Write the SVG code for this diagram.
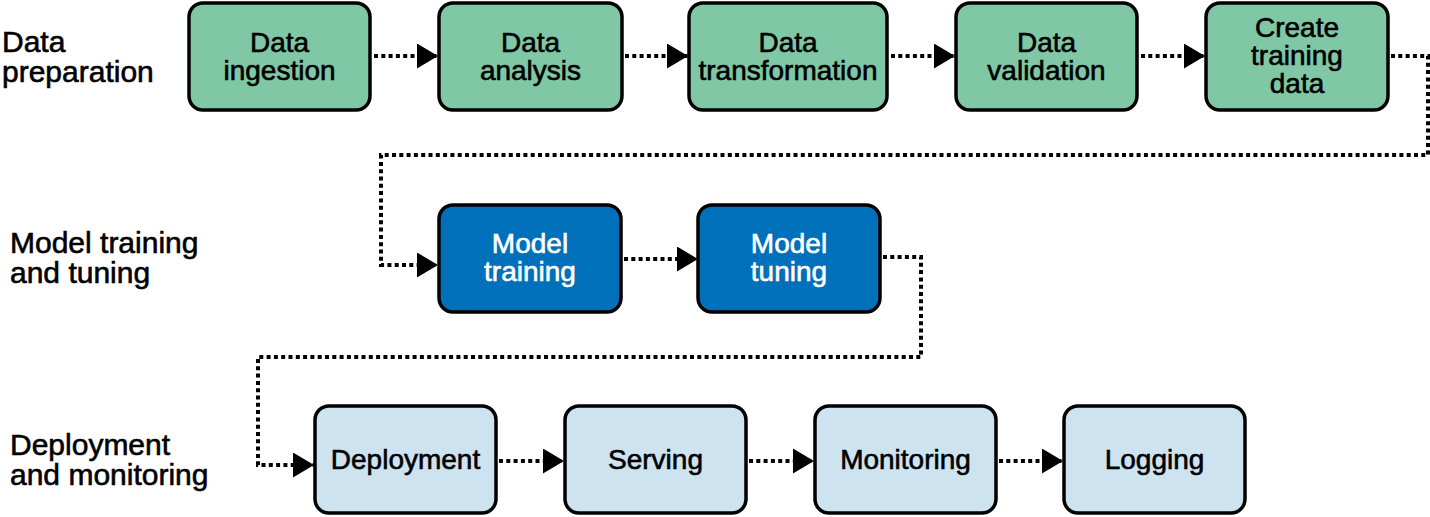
<svg xmlns="http://www.w3.org/2000/svg" width="1430" height="517" viewBox="0 0 1430 517">
<defs>
<style>
.box{stroke:#000;stroke-width:3.5}
.g{fill:#80c8a5}
.b{fill:#0070bb}
.l{fill:#cde3f0}
.t{font-family:"Liberation Sans",Arial,sans-serif;font-size:28px;text-anchor:middle;fill:#000;stroke:#000;stroke-width:0.6}
.w{fill:#fff;stroke:#fff}
.lab{font-family:"Liberation Sans",Arial,sans-serif;font-size:30px;fill:#000;stroke:#000;stroke-width:0.6}
.c{fill:none;stroke:#000;stroke-width:4;stroke-dasharray:4 3.3}
</style>
<marker id="ah" markerUnits="userSpaceOnUse" markerWidth="23" markerHeight="27" refX="21" refY="12.5" orient="auto">
<path d="M0,0 L21,12.5 L0,25 z" fill="#000"/>
</marker>
</defs>
<rect width="1430" height="517" fill="#fff"/>
<g id="labels">
<text class="lab" x="2" y="52">Data</text>
<text class="lab" x="2" y="82">preparation</text>
<text class="lab" x="10" y="253">Model training</text>
<text class="lab" x="10" y="283">and tuning</text>
<text class="lab" x="10" y="455">Deployment</text>
<text class="lab" x="10" y="485">and monitoring</text>
</g>
<g id="connectors">
<path class="c" d="M374,56 H438" marker-end="url(#ah)"/>
<path class="c" d="M625,56 H688" marker-end="url(#ah)"/>
<path class="c" d="M891,56 H955" marker-end="url(#ah)"/>
<path class="c" d="M1141,56 H1205" marker-end="url(#ah)"/>
<path class="c" d="M1391,56 H1428 V155 H381 V265 H438" marker-end="url(#ah)"/>
<path class="c" d="M624,259 H698" marker-end="url(#ah)"/>
<path class="c" d="M883,257 H921 V357 H258 V465 H314" marker-end="url(#ah)"/>
<path class="c" d="M499,461 H564" marker-end="url(#ah)"/>
<path class="c" d="M749,461 H814" marker-end="url(#ah)"/>
<path class="c" d="M999,461 H1063" marker-end="url(#ah)"/>
</g>
<g id="n1"><rect class="box g" x="189" y="3" width="181" height="107" rx="14"/><text class="t" x="279.5" y="52">Data</text><text class="t" x="279.5" y="80">ingestion</text></g>
<g id="n2"><rect class="box g" x="439" y="3" width="183" height="107" rx="14"/><text class="t" x="530.5" y="52">Data</text><text class="t" x="530.5" y="80">analysis</text></g>
<g id="n3"><rect class="box g" x="689" y="3" width="198" height="107" rx="14"/><text class="t" x="788" y="52">Data</text><text class="t" x="788" y="80">transformation</text></g>
<g id="n4"><rect class="box g" x="956" y="3" width="181" height="107" rx="14"/><text class="t" x="1046.5" y="52">Data</text><text class="t" x="1046.5" y="80">validation</text></g>
<g id="n5"><rect class="box g" x="1206" y="3" width="182" height="107" rx="14"/><text class="t" x="1297" y="37">Create</text><text class="t" x="1297" y="65">training</text><text class="t" x="1297" y="93">data</text></g>
<g id="n6"><rect class="box b" x="439" y="205" width="182" height="107" rx="14"/><text class="t w" x="530" y="253">Model</text><text class="t w" x="530" y="281">training</text></g>
<g id="n7"><rect class="box b" x="698" y="205" width="182" height="107" rx="14"/><text class="t w" x="789" y="253">Model</text><text class="t w" x="789" y="281">tuning</text></g>
<g id="n8"><rect class="box l" x="315" y="406" width="181" height="107" rx="14"/><text class="t" x="405.5" y="469">Deployment</text></g>
<g id="n9"><rect class="box l" x="565" y="406" width="181" height="107" rx="14"/><text class="t" x="655.5" y="469">Serving</text></g>
<g id="n10"><rect class="box l" x="815" y="406" width="181" height="107" rx="14"/><text class="t" x="905.5" y="469">Monitoring</text></g>
<g id="n11"><rect class="box l" x="1064" y="406" width="181" height="107" rx="14"/><text class="t" x="1154.5" y="469">Logging</text></g>
</svg>
